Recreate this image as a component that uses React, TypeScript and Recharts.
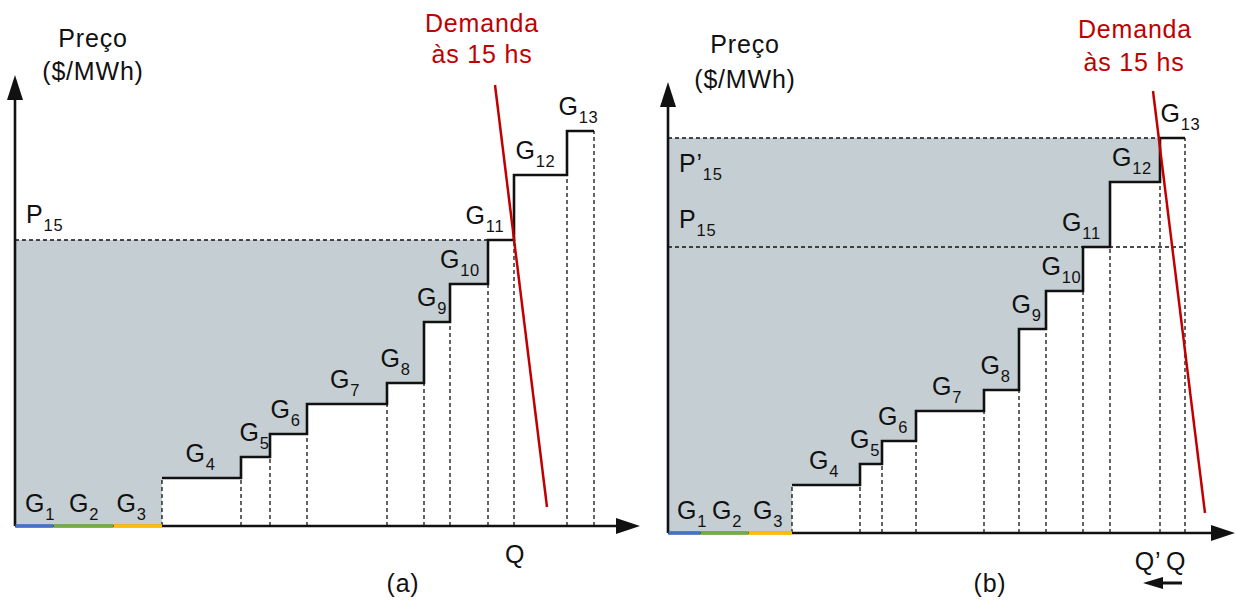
import React from "react";
import {
  ComposedChart,
  XAxis,
  YAxis,
  Line,
  Area,
  ReferenceLine,
  ReferenceDot,
} from "recharts";

// merit order: 13 generators, price in $/MWh (schematic units), capacity in MW (schematic units)
const generators = ["1", "2", "3", "4", "5", "6", "7", "8", "9", "10", "11", "12", "13"];
const prices = [0, 0, 0, 48, 69, 92, 122, 143, 204, 242, 286, 351, 395];
const capacityA = [38, 60, 49, 79, 29, 37, 80, 37, 26, 38, 26, 53, 27];
const capacityB = [32, 48, 44, 68, 22, 34, 68, 35, 27, 37, 27, 50, 25];

const priceP15 = 286;
const priceP15New = 395;

// demand at 15h, two end points of the line
const demandA = [
  { q: 480, p: 441 },
  { q: 532, p: 19 },
];
const demandB = [
  { q: 485, p: 442 },
  { q: 537, p: 20 },
];

const dispatchedA = 11;
const dispatchedB = 12;

const baseColors = ["#4472C4", "#70AD47", "#FFC000"];
// small horizontal nudges for the G labels (px), layout only
const nudgeA = [6, 1, -6, -1, -1, -3, -2, -10, -5, -9, -16, -5, -2];
const nudgeB = [8, 3, -2, -2, -6, -6, -3, -6, -6, -3, -15, -3, 8];
const FONT = "'Liberation Sans', Arial, Helvetica, sans-serif";
const INK = "#111";
const RED = "#C00000";
const SHADE = "#c5cfd3";
const Y_MAX = 451;

function cumulative(cap: number[]) {
  const out = [0];
  cap.forEach((c) => out.push(out[out.length - 1] + c));
  return out;
}

function SubText({
  x,
  y,
  main,
  sub,
  anchor = "middle",
  color = INK,
}: {
  x: number;
  y: number;
  main: string;
  sub?: string;
  anchor?: "start" | "middle" | "end";
  color?: string;
}) {
  return (
    <text x={x} y={y} textAnchor={anchor} fontFamily={FONT} fontSize={25} fill={color} letterSpacing={0.8}>
      {main}
      {sub && (
        <tspan dy={8} fontSize={16.5}>
          {sub}
        </tspan>
      )}
    </text>
  );
}

interface PriceLine {
  p: number;
  to: number;
  label: string;
  dy: number;
}

interface QLabel {
  edge: number;
  text: string;
  dx: number;
}

interface PanelProps {
  left: number;
  width: number;
  margin: { top: number; right: number; bottom: number; left: number };
  xMax: number;
  cap: number[];
  nudge: number[];
  demand: { q: number; p: number }[];
  dispatched: number;
  shadeTop: number;
  priceLines: PriceLine[];
  qLabels: QLabel[];
}

function Panel({ left, width, margin, xMax, cap, nudge, demand, dispatched, shadeTop, priceLines, qLabels }: PanelProps) {
  const edges = cumulative(cap);
  const steps = prices.map((p, i) => ({ q: edges[i], p }));
  steps.push({ q: edges[prices.length], p: prices[prices.length - 1] });
  const curve = steps.slice(3);

  const band = prices.slice(0, dispatched).map((p, i) => ({ q: edges[i], band: [p, shadeTop] }));
  band.push({ q: edges[dispatched], band: [prices[dispatched - 1], shadeTop] });

  return (
    <div style={{ position: "absolute", left, top: 0 }}>
      <ComposedChart width={width} height={601} margin={margin}>
        <XAxis type="number" dataKey="q" domain={[0, xMax]} hide />
        <YAxis type="number" domain={[0, Y_MAX]} hide />

        <Area
          data={band}
          dataKey="band"
          type="stepAfter"
          stroke="none"
          fill={SHADE}
          fillOpacity={1}
          isAnimationActive={false}
        />

        {priceLines.map((pl) => (
          <ReferenceLine
            key={"pl" + pl.p}
            segment={[
              { x: 0, y: pl.p },
              { x: edges[pl.to], y: pl.p },
            ]}
            stroke={INK}
            strokeWidth={1.3}
            strokeDasharray="4 3"
            ifOverflow="visible"
          />
        ))}

        {edges.slice(3).map((q, i) => {
          const p = i === 0 ? prices[3] : prices[i + 2];
          return (
            <ReferenceLine
              key={"v" + i}
              segment={[
                { x: q, y: 0 },
                { x: q, y: p },
              ]}
              stroke={INK}
              strokeWidth={1.3}
              strokeDasharray="4 3"
              ifOverflow="visible"
            />
          );
        })}

        <Line
          data={curve}
          dataKey="p"
          type="stepAfter"
          stroke={INK}
          strokeWidth={2.6}
          dot={false}
          isAnimationActive={false}
        />

        <ReferenceLine
          segment={[
            { x: 0, y: 0 },
            { x: 0, y: Y_MAX - 20 },
          ]}
          stroke={INK}
          strokeWidth={2.6}
          ifOverflow="visible"
        />
        <ReferenceLine
          segment={[
            { x: 0, y: 0 },
            { x: xMax - 15, y: 0 },
          ]}
          stroke={INK}
          strokeWidth={2.6}
          ifOverflow="visible"
        />
        <ReferenceDot
          x={0}
          y={Y_MAX}
          r={0}
          ifOverflow="visible"
          shape={(pr: any) => (
            <polygon points={`${pr.cx},${pr.cy} ${pr.cx - 8},${pr.cy + 25} ${pr.cx + 8},${pr.cy + 25}`} fill={INK} />
          )}
        />
        <ReferenceDot
          x={xMax}
          y={0}
          r={0}
          ifOverflow="visible"
          shape={(pr: any) => (
            <polygon points={`${pr.cx},${pr.cy} ${pr.cx - 24},${pr.cy - 8} ${pr.cx - 24},${pr.cy + 8}`} fill={INK} />
          )}
        />

        {baseColors.map((c, i) => (
          <ReferenceLine
            key={"b" + i}
            segment={[
              { x: edges[i] + 0.5, y: 0 },
              { x: edges[i + 1], y: 0 },
            ]}
            stroke={c}
            strokeWidth={3.5}
            ifOverflow="visible"
          />
        ))}

        <ReferenceLine
          segment={demand.map((d) => ({ x: d.q, y: d.p }))}
          stroke={RED}
          strokeWidth={2.5}
          ifOverflow="visible"
        />

        {generators.map((g, i) => (
          <ReferenceDot
            key={"g" + g}
            x={edges[i] + cap[i] / 2}
            y={prices[i]}
            r={0}
            ifOverflow="visible"
            shape={(pr: any) => (
              <SubText x={pr.cx + nudge[i]} y={pr.cy - (i < 3 ? 14 : 16)} main="G" sub={g} />
            )}
          />
        ))}

        {priceLines.map((pl) => (
          <ReferenceDot
            key={"pt" + pl.p}
            x={0}
            y={pl.p}
            r={0}
            ifOverflow="visible"
            shape={(pr: any) => <SubText x={pr.cx + 11} y={pr.cy + pl.dy} main={pl.label} sub="15" anchor="start" />}
          />
        ))}

        {qLabels.map((ql) => (
          <ReferenceDot
            key={"q" + ql.text}
            x={edges[ql.edge]}
            y={0}
            r={0}
            ifOverflow="visible"
            shape={(pr: any) => <SubText x={pr.cx + ql.dx} y={pr.cy + 37} main={ql.text} />}
          />
        ))}
      </ComposedChart>
    </div>
  );
}

export default function App() {
  return (
    <div style={{ position: "absolute", left: 0, top: 0, width: 1236, height: 601, background: "#fff" }}>
      <Panel
        left={0}
        width={641}
        margin={{ top: 75, right: 1, bottom: 75, left: 15 }}
        xMax={625}
        cap={capacityA}
        nudge={nudgeA}
        demand={demandA}
        dispatched={dispatchedA}
        shadeTop={priceP15}
        priceLines={[{ p: priceP15, to: dispatchedA, label: "P", dy: -17 }]}
        qLabels={[{ edge: dispatchedA, text: "Q", dx: 1 }]}
      />
      <Panel
        left={645}
        width={591}
        margin={{ top: 82, right: 1, bottom: 68, left: 23 }}
        xMax={567}
        cap={capacityB}
        nudge={nudgeB}
        demand={demandB}
        dispatched={dispatchedB}
        shadeTop={priceP15New}
        priceLines={[
          { p: priceP15New, to: 13, label: "P’", dy: 34 },
          { p: priceP15, to: 13, label: "P", dy: -19 },
        ]}
        qLabels={[
          { edge: dispatchedB, text: "Q’", dx: -12 },
          { edge: 13, text: "Q", dx: -9 },
        ]}
      />
      <svg width={1236} height={601} style={{ position: "absolute", left: 0, top: 0, pointerEvents: "none" }}>
        <SubText x={93} y={47} main="Preço" />
        <SubText x={93} y={80} main="($/MWh)" />
        <SubText x={482} y={32} main="Demanda" color={RED} />
        <SubText x={482} y={63} main="às 15 hs" color={RED} />
        <SubText x={403} y={592} main="(a)" />

        <SubText x={745} y={53} main="Preço" />
        <SubText x={745} y={88} main="($/MWh)" />
        <SubText x={1135} y={38} main="Demanda" color={RED} />
        <SubText x={1134} y={71} main="às 15 hs" color={RED} />
        <SubText x={990} y={592} main="(b)" />

        <line x1={1182} y1={583} x2={1160} y2={583} stroke={INK} strokeWidth={3} />
        <polygon points="1143,583 1163,577 1163,589" fill={INK} />
      </svg>
    </div>
  );
}
